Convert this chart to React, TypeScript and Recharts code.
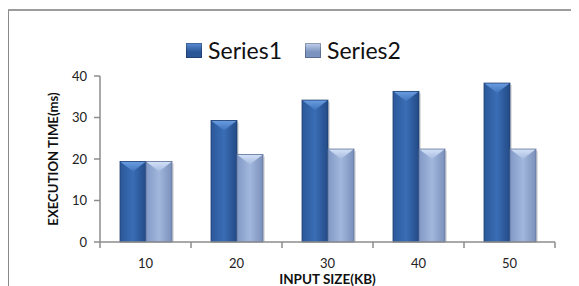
import { BarChart, Bar, XAxis, YAxis, Legend } from "recharts";

const categories = ["10", "20", "30", "40", "50"];
const series1 = [19.4, 29.3, 34.2, 36.3, 38.3];
const series2 = [19.4, 21.1, 22.4, 22.4, 22.4];
const yTicks = [0, 10, 20, 30, 40];

const data = categories.map((size, i) => ({
  size,
  Series1: series1[i],
  Series2: series2[i],
}));

const W = 571;
const H = 278;
const margin = { top: 68, right: 24, bottom: 0, left: 0 };
const yAxisWidth = 92;
const band = (W - margin.right - yAxisWidth) / categories.length;
const font = "Lato, 'Open Sans', sans-serif";
const axisColor = "#8c8c8c";

const BevelBar = (props: any) => {
  const { x, y, width, height, dataKey } = props;
  if (!height || height <= 0) return null;
  const id = dataKey === "Series1" ? "s1" : "s2";
  const tip = Math.min(10, height);
  return (
    <g>
      <rect x={x + 2} y={y + 2} width={width} height={height - 2} fill="rgba(0,0,0,0.12)" />
      <rect x={x} y={y} width={width} height={height} fill={`url(#${id}body)`} />
      <polygon
        points={`${x},${y} ${x + width},${y} ${x + width / 2},${y + tip}`}
        fill={`url(#${id}top)`}
      />
      <rect x={x} y={y} width={width} height={height} fill="none" stroke={id === "s1" ? "#1f3f72" : "#5f7299"} strokeWidth={0.8} />
    </g>
  );
};

const XTick = (props: any) => {
  const { x, y, payload, index } = props;
  const left = x - band / 2;
  return (
    <g>
      <line x1={left} y1={y} x2={left} y2={y + 6} stroke={axisColor} strokeWidth={1.5} />
      {index === categories.length - 1 && (
        <line x1={x + band / 2} y1={y} x2={x + band / 2} y2={y + 6} stroke={axisColor} strokeWidth={1.5} />
      )}
      <text x={x} y={y + 26} textAnchor="middle" fontSize={13} fill="#222" fontFamily={font}>
        {payload.value}
      </text>
    </g>
  );
};

const LegendBox = () => (
  <div style={{ display: "flex", justifyContent: "center", alignItems: "center", fontFamily: font, fontSize: 23, color: "#111" }}>
    {[
      { name: "Series1", c1: "#2a5597", c2: "#5a8ed4" },
      { name: "Series2", c1: "#7b93bf", c2: "#c3d3ee" },
    ].map((s, i) => (
      <div key={s.name} style={{ display: "flex", alignItems: "center", marginLeft: i ? 23 : 0 }}>
        <span
          style={{
            display: "inline-block",
            width: 16,
            height: 15,
            marginRight: 6,
            background: `linear-gradient(180deg, ${s.c2} 0%, ${s.c1} 60%)`,
            boxShadow: "inset 0 0 0 1px rgba(0,0,0,0.25)",
          }}
        />
        <span>{s.name}</span>
      </div>
    ))}
  </div>
);

export default function App() {
  return (
    <div style={{ position: "relative", width: W, height: H, overflow: "hidden" }}>
      <div
        style={{
          position: "absolute",
          left: -1,
          top: 1,
          width: 600,
          height: 400,
          borderLeft: "2px solid #8a8a8a",
          borderTop: "2px solid #9c9c9c",
        }}
      />
      <BarChart width={W} height={H} data={data} margin={margin} barGap={0} barSize={26}>
        <defs>
          <linearGradient id="s1body" x1="0" y1="0" x2="1" y2="0">
            <stop offset="0%" stopColor="#2b5899" />
            <stop offset="50%" stopColor="#3a6db5" />
            <stop offset="100%" stopColor="#234a86" />
          </linearGradient>
          <linearGradient id="s1top" x1="0" y1="0" x2="0" y2="1">
            <stop offset="0%" stopColor="#6b9de0" />
            <stop offset="100%" stopColor="#3f74bd" />
          </linearGradient>
          <linearGradient id="s2body" x1="0" y1="0" x2="1" y2="0">
            <stop offset="0%" stopColor="#8099c6" />
            <stop offset="50%" stopColor="#a2b7dc" />
            <stop offset="100%" stopColor="#7a90bb" />
          </linearGradient>
          <linearGradient id="s2top" x1="0" y1="0" x2="0" y2="1">
            <stop offset="0%" stopColor="#d4e2f7" />
            <stop offset="100%" stopColor="#a6bbe0" />
          </linearGradient>
        </defs>
        <XAxis
          dataKey="size"
          height={44}
          axisLine={{ stroke: axisColor, strokeWidth: 1.5 }}
          tickLine={false}
          tickSize={0}
          tickMargin={0}
          tick={<XTick />}
          interval={0}
          label={{
            content: ({ viewBox }: any) => (
              <text
                x={viewBox.x + viewBox.width / 2}
                y={viewBox.y + 42}
                textAnchor="middle"
                fontSize={13.5}
                fontWeight="bold"
                fill="#111"
                fontFamily={font}
              >
                INPUT SIZE(KB)
              </text>
            ),
          }}
        />
        <YAxis
          width={yAxisWidth}
          domain={[0, 40]}
          ticks={yTicks}
          axisLine={{ stroke: axisColor, strokeWidth: 1.5 }}
          tickLine={{ stroke: axisColor, strokeWidth: 1.5 }}
          tickSize={6}
          tickMargin={7}
          tick={{ fontSize: 13, fill: "#222", fontFamily: font }}
          label={{
            content: ({ viewBox }: any) => {
              const cx = viewBox.x + 45;
              const cy = viewBox.y + viewBox.height / 2;
              return (
                <text
                  x={cx}
                  y={cy}
                  transform={`rotate(-90 ${cx} ${cy})`}
                  textAnchor="middle"
                  dominantBaseline="central"
                  fontSize={13.2}
                  fontWeight="bold"
                  fill="#111"
                  fontFamily={font}
                >
                  EXECUTION TIME(ms)
                </text>
              );
            },
          }}
        />
        <Legend
          verticalAlign="middle"
          align="center"
          layout="horizontal"
          content={<LegendBox />}
          wrapperStyle={{ top: 28, left: 0, width: W }}
        />
        <Bar dataKey="Series1" shape={<BevelBar />} isAnimationActive={false} />
        <Bar dataKey="Series2" shape={<BevelBar />} isAnimationActive={false} />
      </BarChart>
    </div>
  );
}
